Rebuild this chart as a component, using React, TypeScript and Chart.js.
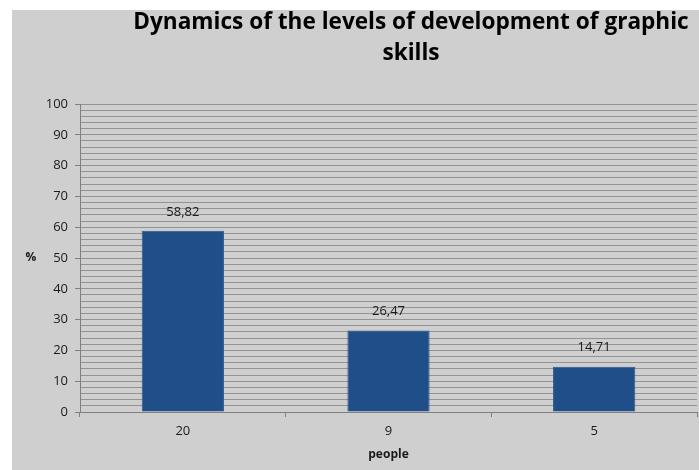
import React, { useEffect, useRef } from "react";
import { Chart, registerables } from "chart.js";

Chart.register(...registerables);

const categories = ["20", "9", "5"];
const percentValues = [58.82, 26.47, 14.71];
const valueLabels = ["58,82", "26,47", "14,71"];
const titleLines = ["Dynamics of the levels of development of graphic", "skills"];
const yAxisTitle = "%";
const xAxisTitle = "people";

const BG = "#cfcfcf";
const BAR = "#1f4e89";
const TEXT = "#1a1a1a";
const FONT = "'Open Sans', 'Liberation Sans', sans-serif";

const textPlugin = {
  id: "customText",
  afterDraw(chart: any) {
    const ctx = chart.ctx;
    const area = chart.chartArea;
    ctx.save();
    ctx.fillStyle = "#000";
    ctx.textAlign = "center";
    ctx.textBaseline = "alphabetic";
    ctx.font = `bold 22.6px ${FONT}`;
    ctx.fillText(titleLines[0], 399, 19);
    ctx.fillText(titleLines[1], 399, 50);
    // axis titles
    ctx.font = `bold 12px ${FONT}`;
    ctx.textBaseline = "middle";
    ctx.fillStyle = TEXT;
    ctx.fillText(yAxisTitle, 19, chart.scales.y.getPixelForValue(50));
    ctx.fillText(xAxisTitle, (area.left + area.right) / 2, 445);
    // value labels
    ctx.font = `13px ${FONT}`;
    const meta = chart.getDatasetMeta(0);
    meta.data.forEach((bar: any, i: number) => {
      ctx.fillText(valueLabels[i], bar.x, bar.y - 19);
    });
    ctx.restore();
  },
};

export default function App() {
  const ref = useRef<HTMLCanvasElement>(null);
  useEffect(() => {
    if (!ref.current) return;
    const chart = new Chart(ref.current, {
      type: "bar",
      data: {
        labels: categories,
        datasets: [
          {
            data: percentValues,
            backgroundColor: BAR,
            borderColor: "#2a5a95",
            borderWidth: 1,
            barPercentage: 0.4,
            categoryPercentage: 1,
          },
        ],
      },
      options: {
        animation: false,
        responsive: false,
        maintainAspectRatio: false,
        layout: { padding: { top: 94, right: 2, left: 0, bottom: 0 } },
        plugins: {
          legend: { display: false },
          title: { display: false },
          tooltip: { enabled: false },
        },
        scales: {
          x: {
            offset: true,
            afterFit: (s: any) => {
              s.height = 58;
            },
            grid: {
              offset: true,
              drawOnChartArea: false,
              tickLength: 5,
              color: "#808080",
            },
            border: { color: "#808080", width: 1 },
            ticks: { color: TEXT, font: { family: FONT, size: 13 }, padding: 6 },
          },
          y: {
            min: 0,
            max: 100,
            afterFit: (s: any) => {
              s.width = 68;
            },
            ticks: {
              stepSize: 2,
              autoSkip: false,
              color: TEXT,
              font: { family: FONT, size: 13 },
              padding: 7,
              callback: (v: any) => (Number(v) % 10 === 0 ? String(v) : ""),
            },
            grid: {
              color: "#939393",
              lineWidth: 1,
              tickLength: 5,
              tickColor: (c: any) =>
                c.tick && c.tick.value % 10 === 0 ? "#808080" : "rgba(0,0,0,0)",
            },
            border: { color: "#808080", width: 1 },
          },
        },
      },
      plugins: [textPlugin],
    });
    return () => chart.destroy();
  }, []);
  return (
    <div
      style={{
        position: "absolute",
        left: 12,
        top: 10,
        width: 687,
        height: 460,
        background: BG,
        overflow: "hidden",
      }}
    >
      <canvas ref={ref} width={687} height={460} style={{ display: "block" }} />
    </div>
  );
}
